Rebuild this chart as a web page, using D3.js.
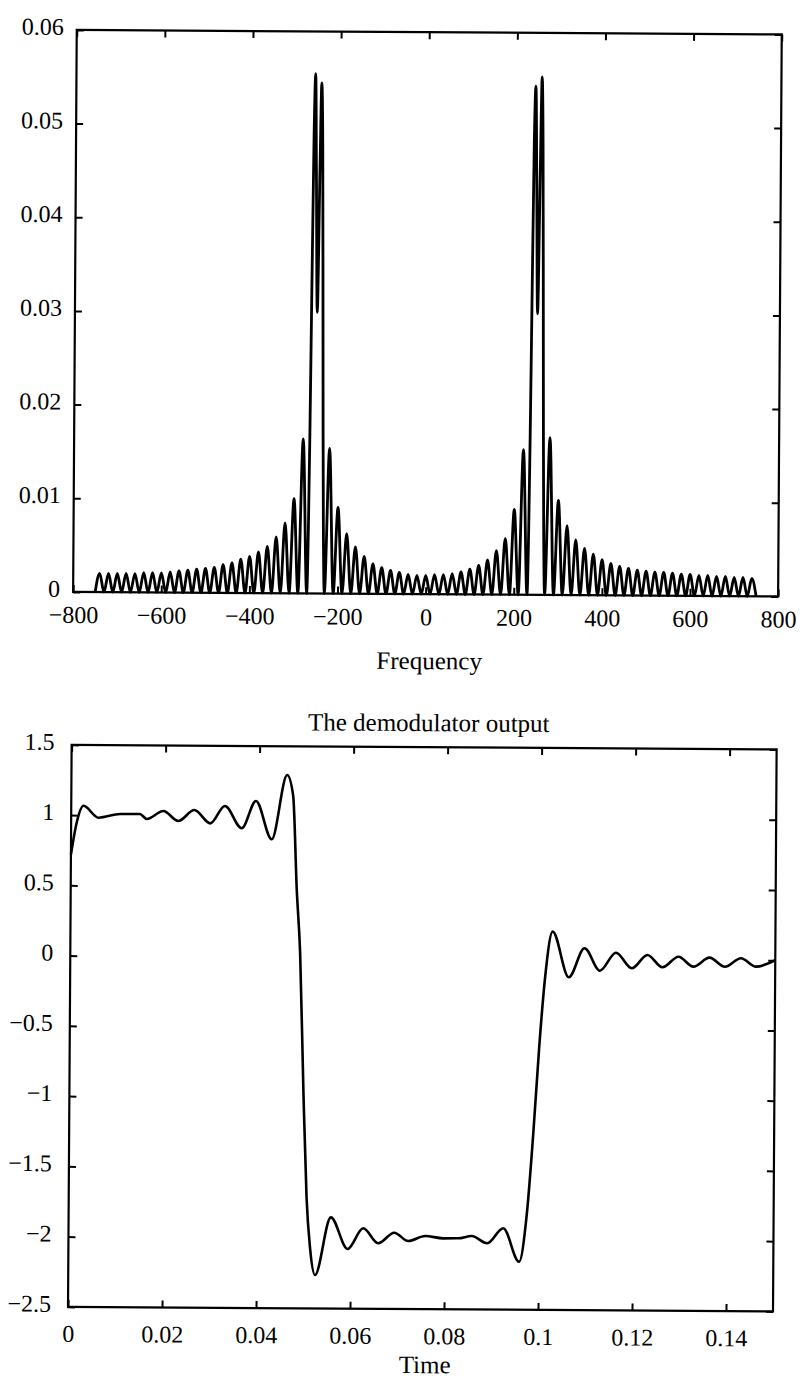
<!DOCTYPE html>
<html>
<head>
<meta charset="utf-8">
<script src="https://cdn.jsdelivr.net/npm/d3@7"></script>
<style>
  body { margin: 0; background: #fff; }
  svg { display: block; background: #fff; }
</style>
</head>
<body>
<svg id="figure" width="802" height="1380"></svg>
<script>
// ---- spectrum (top) ----
// zeros between the lobes
const nullFreq = [-750, -730, -710, -690, -670, -650, -630, -610, -590, -570, -550, -530, -510, -490, -470,
    -450, -430, -410, -390, -370, -350, -330, -310, -290, -270,
    -230, -210, -190, -170, -150, -130, -110, -90, -70, -50, -30, -10, 10, 30, 50, 70, 90, 110, 130, 150,
    170, 190, 210, 230,
    270, 290, 310, 330, 350, 370, 390, 410, 430, 450, 470, 490, 510, 530, 550, 570, 590, 610, 630, 650,
    670, 690, 710, 730, 750];

// top of every side lobe
const lobeFreq = [-740, -720, -700, -680, -660, -640, -620, -600, -580, -560, -540, -520, -500, -480, -460,
    -440, -420, -400, -380, -360, -340, -320, -300, -280,
    -220, -200, -180, -160, -140, -120, -100, -80, -60, -40, -20, 0, 20, 40, 60, 80, 100, 120, 140, 160,
    180, 200, 220,
    280, 300, 320, 340, 360, 380, 400, 420, 440, 460, 480, 500, 520, 540, 560, 580, 600, 620, 640, 660,
    680, 700, 720, 740];
const lobeMag = [0.0020, 0.0020, 0.0020, 0.0020, 0.0020, 0.0021, 0.0021, 0.0021, 0.0022, 0.0023, 0.0024,
    0.0025, 0.0026, 0.0027, 0.0030, 0.0032, 0.0036, 0.0039, 0.0044, 0.0050, 0.0060, 0.0075, 0.0101, 0.0165,
    0.0155, 0.0092, 0.0064, 0.0050, 0.0040, 0.0032, 0.0028, 0.0025, 0.0023, 0.0021, 0.0020, 0.0020, 0.0021,
    0.0021, 0.0022, 0.0024, 0.0027, 0.0031, 0.0037, 0.0047, 0.0060, 0.0091, 0.0155,
    0.0168, 0.0101, 0.0074, 0.0059, 0.0050, 0.0044, 0.0038, 0.0034, 0.0031, 0.0029, 0.0027, 0.0026, 0.0025,
    0.0025, 0.0024, 0.0023, 0.0023, 0.0022, 0.0022, 0.0021, 0.0021, 0.0020, 0.0020, 0.0019];

// the two big lobes around the carrier (+-250 Hz)
const carrierFreq = [-267, -265, -263, -260, -257, -254, -250, -246, -243, -240, -237, -235, -233,
    233, 235, 237, 240, 243, 246, 250, 254, 257, 260, 263, 265, 267];
const carrierMag = [0.007, 0.017, 0.030, 0.048, 0.0555, 0.045, 0.030, 0.045, 0.0545, 0.048, 0.030, 0.017, 0.007,
    0.007, 0.017, 0.030, 0.048, 0.0543, 0.045, 0.030, 0.045, 0.0553, 0.048, 0.030, 0.017, 0.007];

const freqTicks = [-800, -600, -400, -200, 0, 200, 400, 600, 800];
const freqTickLabels = ["\u2212800", "\u2212600", "\u2212400", "\u2212200", "0", "200", "400", "600", "800"];
const magTicks = [0, 0.01, 0.02, 0.03, 0.04, 0.05, 0.06];
const magTickLabels = ["0", "0.01", "0.02", "0.03", "0.04", "0.05", "0.06"];

// ---- demodulator output (bottom) ----
const time = [0, 0.0012, 0.0026, 0.0058, 0.0104, 0.0146, 0.0161, 0.0196, 0.0228, 0.0262, 0.0296, 0.0327,
    0.0363, 0.0393, 0.0427, 0.0459, 0.0472, 0.0481, 0.0489, 0.0498, 0.0506, 0.0514, 0.0525, 0.0558, 0.0594,
    0.0627, 0.0659, 0.0693, 0.0723, 0.0759, 0.0797, 0.0829, 0.0858, 0.0891, 0.0925, 0.0959, 0.0975, 0.0988,
    0.0999, 0.1010, 0.1026, 0.1061, 0.1094, 0.1127, 0.1161, 0.1195, 0.1228, 0.1260, 0.1294, 0.1326, 0.1360,
    0.1393, 0.1427, 0.1459, 0.1500];
const output = [0.72, 0.95, 1.067, 0.983, 1.01, 1.011, 0.976, 1.034, 0.963, 1.042, 0.948, 1.072,
    0.914, 1.109, 0.837, 1.296, 1.15, 0.477, 0.03, -0.967, -1.709, -2.065, -2.262, -1.851, -2.075,
    -1.927, -2.033, -1.957, -2.016, -1.979, -1.995, -1.994, -1.977, -2.028, -1.921, -2.158, -1.813, -1.22,
    -0.627, -0.152, 0.193, -0.131, 0.076, -0.083, 0.046, -0.064, 0.031, -0.056, 0.020, -0.050, 0.015,
    -0.049, 0.012, -0.047, 0.0];

const timeTicks = [0, 0.02, 0.04, 0.06, 0.08, 0.1, 0.12, 0.14];
const timeTickLabels = ["0", "0.02", "0.04", "0.06", "0.08", "0.1", "0.12", "0.14"];
const outTicks = [-2.5, -2, -1.5, -1, -0.5, 0, 0.5, 1, 1.5];
const outTickLabels = ["\u22122.5", "\u22122", "\u22121.5", "\u22121", "\u22120.5", "0", "0.5", "1", "1.5"];

const FONT = "'Liberation Serif', 'Times New Roman', serif";

const svg = d3.select("#figure");
// the scanned page is turned a little clockwise
const page = svg.append("g").attr("transform", "rotate(0.37, 401, 690)");

// box with inward ticks on all four sides
function drawFrame(g, x, y, opt) {
    const [left, right] = x.range();
    const [yBottom, yTop] = y.range();

    const styleAxis = sel => {
        sel.select(".domain").remove();
        sel.selectAll(".tick line").attr("stroke", "#000").attr("stroke-width", 2);
        sel.attr("font-family", FONT).attr("font-size", 24);
        sel.selectAll("text").attr("fill", "#000");
    };

    g.append("g")
        .attr("transform", `translate(0,${yBottom})`)
        .call(d3.axisBottom(x).tickValues(opt.xTicks).tickFormat((d, i) => opt.xLabels[i])
            .tickSizeInner(-7).tickSizeOuter(0).tickPadding(opt.xPad))
        .call(styleAxis);

    g.append("g")
        .attr("transform", `translate(0,${yTop})`)
        .call(d3.axisTop(x).tickValues(opt.xTicks).tickFormat("")
            .tickSizeInner(-7).tickSizeOuter(0))
        .call(styleAxis);

    g.append("g")
        .attr("transform", `translate(${left},0)`)
        .call(d3.axisLeft(y).tickValues(opt.yTicks).tickFormat((d, i) => opt.yLabels[i])
            .tickSizeInner(-7).tickSizeOuter(0).tickPadding(opt.yPad))
        .call(styleAxis)
        .selectAll("text").attr("dy", "0.19em");

    g.append("g")
        .attr("transform", `translate(${right},0)`)
        .call(d3.axisRight(y).tickValues(opt.yTicks).tickFormat("")
            .tickSizeInner(-7).tickSizeOuter(0))
        .call(styleAxis);

    g.append("rect")
        .attr("x", left)
        .attr("y", yTop)
        .attr("width", right - left)
        .attr("height", yBottom - yTop)
        .attr("fill", "none")
        .attr("stroke", "#000")
        .attr("stroke-width", 2.2);
}

function addText(g, x, y, str) {
    g.append("text")
        .attr("x", x)
        .attr("y", y)
        .attr("text-anchor", "middle")
        .attr("font-family", FONT)
        .attr("font-size", 25)
        .attr("fill", "#000")
        .text(str);
}

// ---- top: magnitude spectrum ----
const spectrum = nullFreq.map(f => ({ f: f, m: 0 }))
    .concat(lobeFreq.map((f, i) => ({ f: f, m: lobeMag[i] })))
    .concat(carrierFreq.map((f, i) => ({ f: f, m: carrierMag[i] })))
    .sort((a, b) => a.f - b.f);

const xFreq = d3.scaleLinear().domain([-800, 800]).range([72.5, 777.5]);
const yMag = d3.scaleLinear().domain([0, 0.06]).range([594, 32]);

const topChart = page.append("g");

topChart.append("path")
    .datum(spectrum)
    .attr("fill", "none")
    .attr("stroke", "#000")
    .attr("stroke-width", 2.8)
    .attr("stroke-linejoin", "round")
    .attr("d", d3.line().x(d => xFreq(d.f)).y(d => yMag(d.m)).curve(d3.curveMonotoneX));

drawFrame(topChart, xFreq, yMag, {
    xTicks: freqTicks, xLabels: freqTickLabels, xPad: 14,
    yTicks: magTicks, yLabels: magTickLabels, yPad: 13
});
addText(topChart, 429, 669, "Frequency");

// ---- bottom: demodulator output ----
const xTime = d3.scaleLinear().domain([0, 0.15]).range([72, 777]);
const yOut = d3.scaleLinear().domain([-2.5, 1.5]).range([1309, 747]);

const bottomChart = page.append("g");

bottomChart.append("path")
    .datum(time.map((t, i) => ({ t: t, v: output[i] })))
    .attr("fill", "none")
    .attr("stroke", "#000")
    .attr("stroke-width", 2.6)
    .attr("stroke-linejoin", "round")
    .attr("d", d3.line().x(d => xTime(d.t)).y(d => yOut(d.v)).curve(d3.curveMonotoneX));

drawFrame(bottomChart, xTime, yOut, {
    xTicks: timeTicks, xLabels: timeTickLabels, xPad: 18,
    yTicks: outTicks, yLabels: outTickLabels, yPad: 17
});
addText(bottomChart, 429, 731, "The demodulator output");
addText(bottomChart, 429, 1373, "Time");
</script>
</body>
</html>
